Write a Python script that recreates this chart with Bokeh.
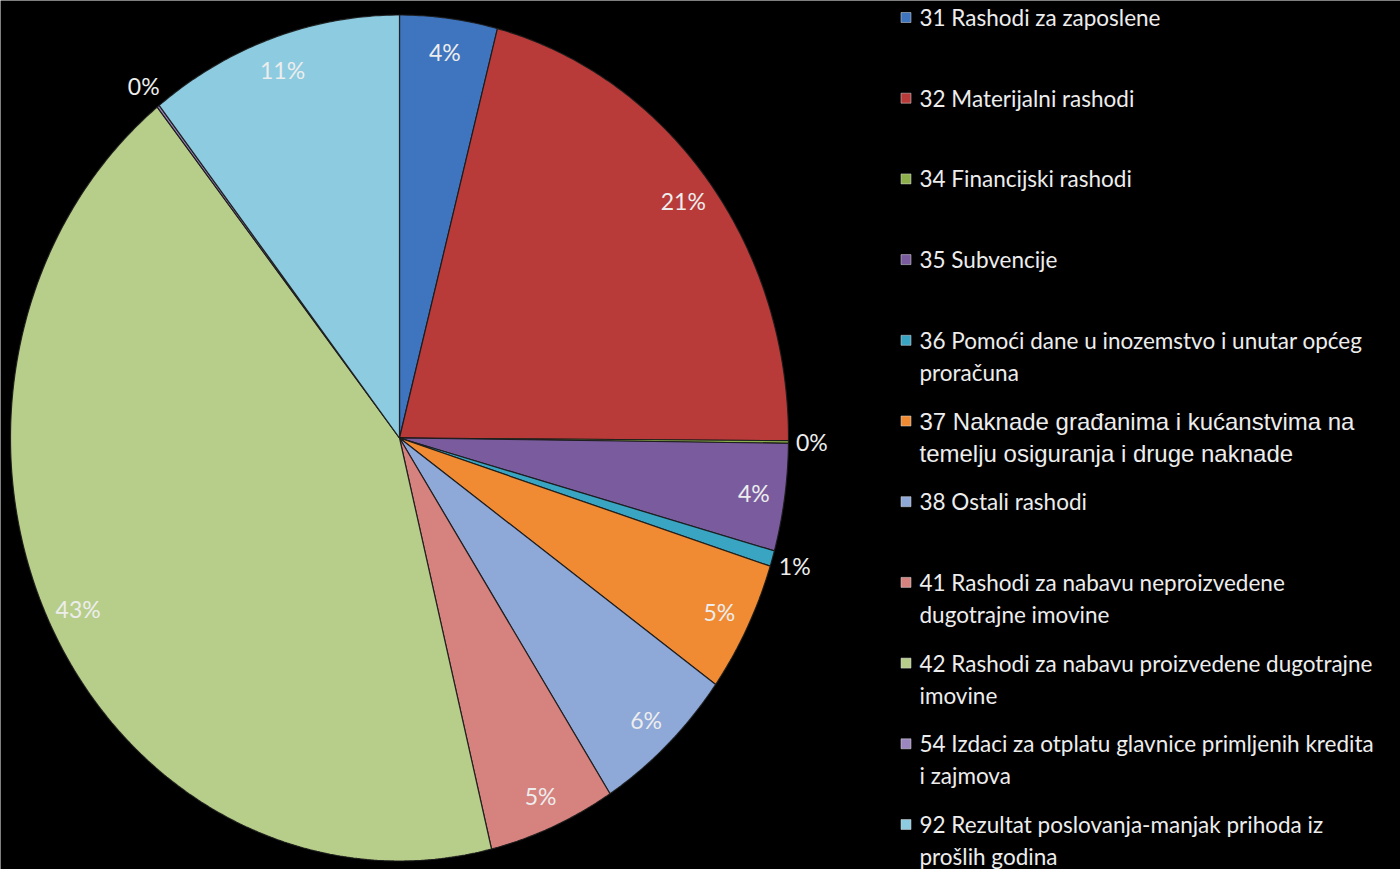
import numpy as np
from bokeh.plotting import figure
from bokeh.models import Range1d, ColumnDataSource
from bokeh.core.properties import value
from bokeh.embed import file_html
from bokeh.resources import INLINE

# ---- data ----
categories = [
    "31 Rashodi za zaposlene",
    "32 Materijalni rashodi",
    "34 Financijski rashodi",
    "35 Subvencije",
    "36 Pomoći dane u inozemstvo i unutar općeg\nproračuna",
    "37 Naknade građanima i kućanstvima na\ntemelju osiguranja i druge naknade",
    "38 Ostali rashodi",
    "41 Rashodi za nabavu neproizvedene\ndugotrajne imovine",
    "42 Rashodi za nabavu proizvedene dugotrajne\nimovine",
    "54 Izdaci za otplatu glavnice primljenih kredita\ni zajmova",
    "92 Rezultat poslovanja-manjak prihoda iz\nprošlih godina",
]
shares = [4.05, 21.05, 0.1, 4.1, 0.6, 5.0, 6.0, 5.3, 43.1, 0.1, 10.6]
colors = ["#3F74BE", "#B93B39", "#8DAF4C", "#7A5C9E", "#3AA5C2", "#F08A33",
          "#8EA8D8", "#D6827F", "#B7CD8A", "#9C86BF", "#8CCBE0"]

# ---- layout ----
W, H = 1400, 869
CX, CY = 399.0, 869 - 437.5
RX, RY = 389.0, 423.0

p = figure(width=W, height=H, output_backend="svg", toolbar_location=None,
           x_range=Range1d(0, W), y_range=Range1d(0, H),
           background_fill_color="black", border_fill_color="black",
           min_border=0, outline_line_color=None)
p.axis.visible = False
p.grid.visible = False

vals = np.array(shares, dtype=float)
frac = vals / vals.sum()
cum = np.concatenate([[0.0], np.cumsum(frac)])

xs, ys = [], []
for i in range(len(vals)):
    a0, a1 = cum[i] * 2 * np.pi, cum[i + 1] * 2 * np.pi
    n = max(2, int((a1 - a0) / (2 * np.pi) * 720) + 2)
    t = np.linspace(a0, a1, n)
    xs.append([CX] + list(CX + RX * np.sin(t)) + [CX])
    ys.append([CY] + list(CY + RY * np.cos(t)) + [CY])

p.patches(xs=xs, ys=ys, fill_color=colors, line_color="#1A1A1A",
          line_width=1.2, line_alpha=0.9)

# percentage labels
lx, ly, lt = [], [], []
for i in range(len(vals)):
    mid = (cum[i] + cum[i + 1]) / 2 * 2 * np.pi
    r = 0.92 if vals[i] >= 1 else 1.06
    lx.append(CX + RX * r * np.sin(mid))
    ly.append(CY + RY * r * np.cos(mid))
    lt.append(f"{round(frac[i] * 100):.0f}%")
p.text(x=lx, y=ly, text=lt, text_color="#EDEDED", text_font=value("Lato"),
       text_font_size="23px", text_align="center", text_baseline="middle")

# legend
row_top = 17.0
row_step = 80.7
line_step = 32.0
tx, ty, tt, fonts, sizes = [], [], [], [], []
mx, my, mc = [], [], []
for i, name in enumerate(categories):
    yc = H - (row_top + i * row_step)
    mx.append(905.5)
    my.append(yc)
    mc.append(colors[i])
    special = name.startswith("37")
    for j, line in enumerate(name.split("\n")):
        tx.append(919)
        ty.append(yc - j * line_step)
        tt.append(line)
        fonts.append("Liberation Sans" if special else "Lato")
        sizes.append("24px" if special else "22.5px")

p.rect(x=mx, y=my, width=10, height=10, fill_color=mc, line_color="#DDDDDD",
       line_width=0.5)
src = ColumnDataSource(dict(x=tx, y=ty, text=tt, font=fonts, size=sizes))
p.text(x="x", y="y", text="text", text_font="font", text_font_size="size",
       source=src, text_color="#EDEDED", text_align="left",
       text_baseline="middle")

open("out.html", "w").write(file_html(p, INLINE))
